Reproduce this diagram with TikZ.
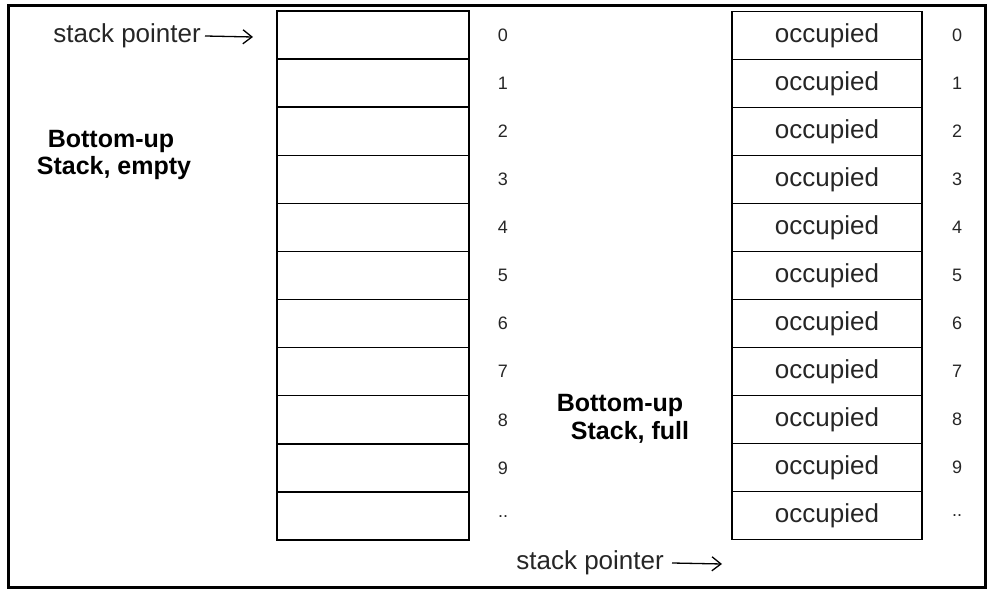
\documentclass[tikz,border=0pt]{standalone}
\usepackage{fontspec}
\setmainfont{Liberation Sans}
\usetikzlibrary{arrows.meta}
\begin{document}
\begin{tikzpicture}[x=1pt,y=-1pt,
  cell/.style={draw, line width=1.4pt, minimum width=#1, minimum height=48.1pt, inner sep=0pt, font=\fontsize{26}{30}\selectfont, text=black!85},
  idx/.style={inner sep=0pt, font=\fontsize{18}{20}\selectfont, text=black!85},
  lbl/.style={inner sep=0pt, font=\fontsize{26}{30}\selectfont, text=black!85},
  bld/.style={inner sep=0pt, font=\bfseries\fontsize{25}{28}\selectfont},
  ptr/.style={line width=1.3pt, -{Straight Barb[length=9pt,width=14pt,line width=1.3pt]}}]
\useasboundingbox (0,0) rectangle (989,593);
\node[draw, line width=3pt, minimum width=977pt, minimum height=582pt, inner sep=0pt] (frame) at (496.5,297) {};
% left stack
\foreach \i in {0,...,10} {
  \node[cell=192pt] (L\i) at (373, 11+48.1*\i+24.05) {};
}
\foreach \i in {0,...,9} {
  \node[idx] (LI\i) at (503, 11+48.1*\i+24.05) {\i};
}
\node[idx] (LI10) at (503, 11+48.1*10+24.05) {..};
% right stack
\foreach \i in {0,...,10} {
  \node[cell=190pt] (R\i) at (827, 11.5+48*\i+24) {occupied};
}
\foreach \i in {0,...,9} {
  \node[idx] (RI\i) at (957, 11.5+48*\i+24) {\i};
}
\node[idx] (RI10) at (957, 11.5+48*10+24) {..};
% pointers
\node[lbl, anchor=east] (sptop) at (201,36) {stack pointer};
\coordinate (tiptop) at (253,37);
\draw[ptr] ([xshift=4pt]sptop.east) -- (tiptop);
\node[lbl, anchor=east] (spbot) at (664,563) {stack pointer};
\coordinate (tipbot) at (722,564);
\draw[ptr] ([xshift=8pt]spbot.east) -- (tipbot);
% labels
\node[bld] (e1) at (111,141) {Bottom-up};
\node[bld] (e2) at (114,168) {Stack, empty};
\node[bld] (f1) at (620,405) {Bottom-up};
\node[bld] (f2) at (630,432) {Stack, full};
\end{tikzpicture}
\end{document}
